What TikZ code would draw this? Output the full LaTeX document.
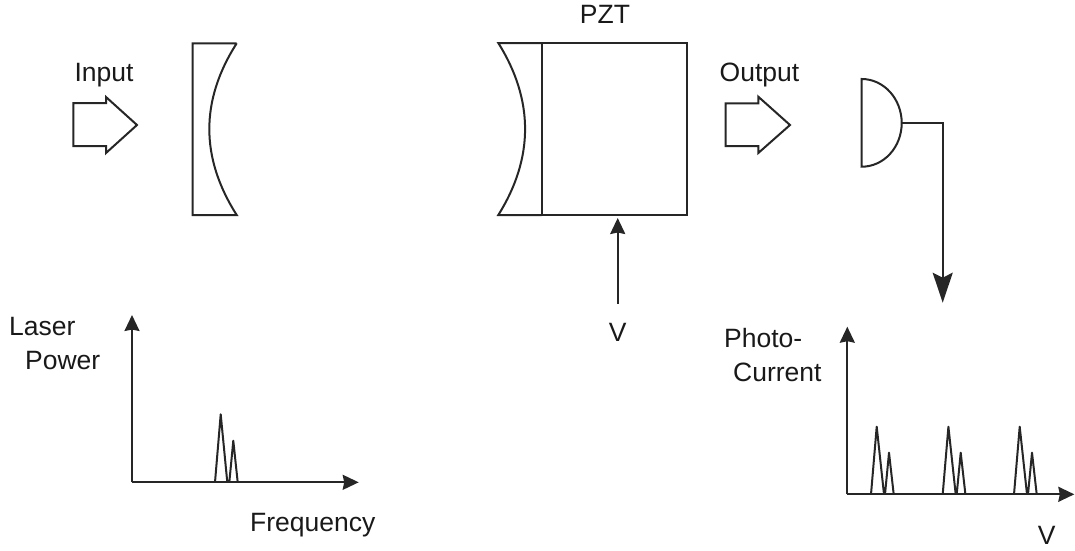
\documentclass[tikz,border=0pt]{standalone}
\usepackage{fontspec}
\setmainfont{Liberation Sans}
\usetikzlibrary{arrows.meta}
\tikzset{
  ln/.style={draw=black!85,line width=2pt,line join=miter},
  thin peak/.style={draw=black!85,line width=2pt,line join=round},
  arr/.style={ln,-{Stealth[length=16pt,width=15pt,inset=1.5pt]}},
  bigarr/.style={ln,-{Stealth[length=30pt,width=20pt,inset=5pt]}},
  lab/.style={font=\fontsize{26.5}{30}\selectfont,text=black!90,inner sep=0pt,anchor=base},
  labl/.style={lab,anchor=base west},
  pztbox/.style={ln,rectangle,minimum width=145.6pt,minimum height=172pt,inner sep=0pt,outer sep=0pt}
}
\newcommand{\twopeaks}[1]{%
  \draw[thin peak,shift={(#1,0)}] (871,494.3)--(876.7,426.7)--(884,494.3) (885,494.3)--(889,452.7)--(893.7,494.3);}
\begin{document}
\begin{tikzpicture}[x=1pt,y=-1pt]
\useasboundingbox (0,0) rectangle (1075,550);
% input
\draw[ln] (73.3,103)--(106,103)--(106,97)--(137,125)--(106,153)--(106,146)--(73.3,146)--cycle;
\node[lab] (input) at (104,81) {Input};
% lens 1
\draw[ln] (236.7,43.3)--(192.7,43.3)--(192.7,215)--(236.7,215) .. controls (200.2,157.6) and (200.2,100.4) .. (236.7,43.3);
% PZT
\node[pztbox] (pzt) at (614.5,129) {};
\draw[ln] (pzt.north west)--(498.3,43) .. controls (534,100) and (534,158) .. (498.3,215)--(pzt.south west);
\node[lab] (pztlab) at (605,23.3) {PZT};
\node[lab] (vlab) at (617.7,341) {V};
\draw[arr,shorten <=19pt,shorten >=3pt] (vlab.north) -- (vlab.north |- pzt.south);
% output
\draw[ln] (725.7,103.3)--(758.3,103.3)--(758.3,96.7)--(790,125)--(758.3,153)--(758.3,146)--(725.7,146)--cycle;
\node[lab] (output) at (759.5,81) {Output};
% detector
\draw[ln] (861.7,79) .. controls (884,79) and (901.7,99) .. (901.7,123) .. controls (901.7,147) and (884,166.7) .. (861.7,166.7)--cycle;
\coordinate (detout) at (901.7,123);
\coordinate (dettip) at (942.7,302.7);
\draw[bigarr] (detout) -| (dettip);
% plot 1
\coordinate (o1) at (132,482.3);
\coordinate (y1) at (132,315);
\coordinate (x1) at (358.7,482.3);
\draw[arr] (o1)--(y1);
\draw[arr] (o1)--(x1);
\draw[thin peak] (215,482.3)--(220.7,414.3)--(227.3,482.3) (229.3,482.3)--(233.3,440.7)--(237.7,482.3);
\node[labl] (laser) at (9,335) {Laser};
\node[labl] (power) at (25,369) {Power};
\node[labl] (freq) at (250,531.7) {Frequency};
% plot 2
\coordinate (o2) at (847.3,494.3);
\coordinate (y2) at (847.3,326.7);
\coordinate (x2) at (1074.3,494.3);
\draw[arr] (o2)--(y2);
\draw[arr] (o2)--(x2);
\twopeaks{0}
\twopeaks{71.7}
\twopeaks{143}
\node[labl] (photo) at (724,347) {Photo-};
\node[labl] (current) at (733,381) {Current};
\node[lab] (v2) at (1046.7,544) {V};
\end{tikzpicture}
\end{document}
